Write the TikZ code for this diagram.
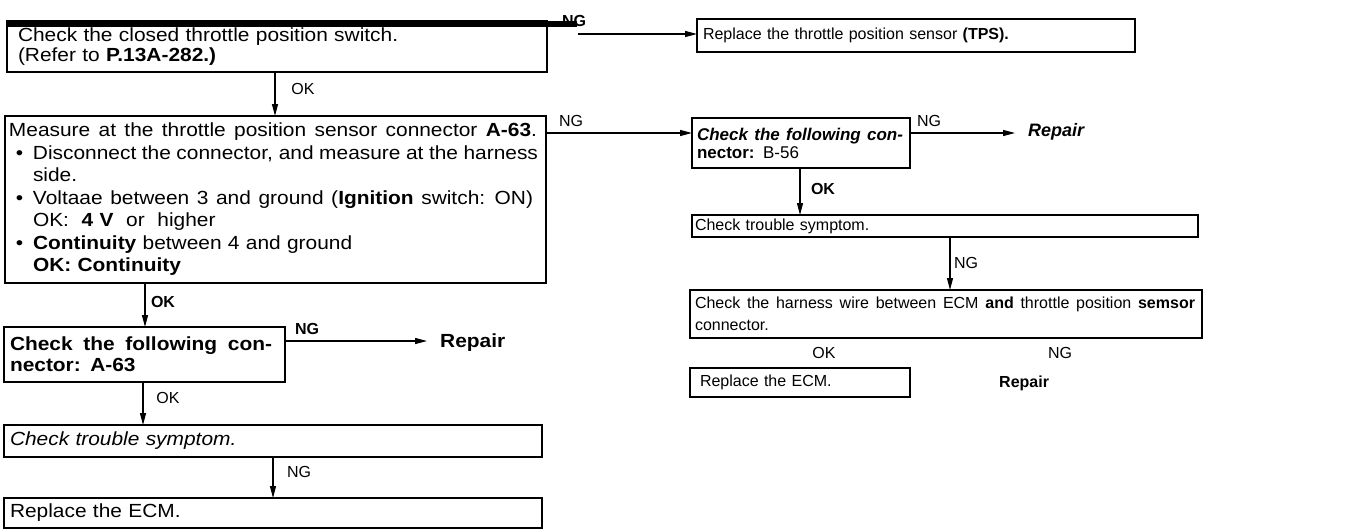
\documentclass[tikz,border=0pt]{standalone}
\usepackage{fontspec}
\setmainfont{Liberation Sans}
\newfontfamily\leftfont[FakeStretch=1.1]{Liberation Sans}
\usetikzlibrary{arrows.meta}
\newcommand\bodyfont[1]{\fontsize{16}{#1}\selectfont}
\newcommand\lfont[1]{\leftfont\fontsize{19}{#1}\selectfont}
\newcommand\bul{\makebox[24pt][l]{\hspace{7pt}\textbullet}}
\newcommand\ind{\hspace*{24pt}}
\newcommand\jline[2]{\hbox to #1{\spaceskip=0.2em plus 1fil\relax #2}}
\begin{document}
\begin{tikzpicture}[x=1pt,y=-1pt,
  box/.style={draw,line width=1.5pt,anchor=north west,outer sep=0pt,inner ysep=0pt,align=left},
  arr/.style={line width=1.2pt,-{Triangle[length=12pt,width=6pt]}},
  lbl/.style={inner sep=0pt,font=\fontsize{16}{18}\selectfont},
  blbl/.style={inner sep=0pt,font=\fontsize{16}{18}\selectfont\bfseries},
  rep/.style={anchor=west,inner sep=0pt,font=\fontsize{16}{18}\selectfont\bfseries},
]
\useasboundingbox[fill=white] (0,0) rectangle (1348,530);

% ---------- left column ----------
\node[box,inner xsep=11pt,text width=518pt,minimum height=51pt,font=\lfont{20}] (b1) at (7,21)
 {Check the closed throttle position switch.\\(Refer to \textbf{P.13A-282.)}};
\draw[line width=6pt] ([yshift=-2.5pt]b1.north west) -- ([xshift=30pt,yshift=-2.5pt]b1.north east);
\node[blbl] (ng1) at (574,21) {NG};

\node[box,inner xsep=4pt,text width=533pt,minimum height=167pt,font=\lfont{22.5}] (b3) at (5,116)
{\jline{528pt}{Measure at the throttle position sensor connector \textbf{A-63}.}\\
\bul\jline{505pt}{Disconnect the connector, and measure at the harness}\\
\ind side.\\
\bul\jline{500pt}{Voltaae between 3 and ground (\textbf{Ignition} switch: ON)}\\
\ind OK:\ \ \textbf{4 V}\ \ or\ \ higher\\
\bul\textbf{Continuity} between 4 and ground\\
\ind\textbf{OK: Continuity}};

\node[box,inner xsep=6pt,text width=269pt,minimum height=55pt,font=\lfont{21}\bfseries] (b8) at (4,327)
{\jline{262pt}{Check the following con-}\\nector: A-63};
\node[box,inner xsep=6pt,text width=526pt,minimum height=32pt,font=\lfont{20}\itshape] (b9) at (4,425)
{Check trouble symptom.};
\node[box,inner xsep=6pt,text width=526pt,minimum height=30pt,font=\lfont{20}] (b10) at (4,498)
{Replace the ECM.};
\node[rep,font=\lfont{20}\bfseries] (rep2) at (440,343) {Repair};

% ---------- right column ----------
\node[box,inner xsep=6pt,text width=426pt,minimum height=33pt,font=\bodyfont{20}] (b2) at (697,19)
 {Replace the throttle position sensor \textbf{(TPS).}};
\node[box,inner xsep=5pt,text width=208pt,minimum height=50pt,font=\fontsize{17}{18}\selectfont\bfseries] (b4) at (692,118)
{\jline{206pt}{\itshape Check the following con-}\\nector: \mdseries B-56};
\node[rep,font=\fontsize{18}{20}\selectfont\bfseries\itshape] (rep1) at (1028,132) {Repair};
\node[box,inner xsep=3pt,text width=500pt,minimum height=22pt,font=\bodyfont{20}] (b5) at (692,215)
{Check trouble symptom.};
\node[box,inner xsep=5pt,text width=502pt,minimum height=48pt,font=\bodyfont{22}] (b6) at (690,290)
{\jline{500pt}{Check the harness wire between ECM \textbf{and} throttle position \textbf{semsor}}\\connector.};
\node[box,inner xsep=10pt,text width=200pt,minimum height=29pt,font=\bodyfont{20}] (b7) at (690,368)
{Replace the ECM.};
\node[rep] (rep3) at (999,383) {Repair};
\node[lbl] (ok6) at (824,353) {OK};
\node[lbl] (ng6) at (1060,353) {NG};

% ---------- connectors ----------
\coordinate (n1s) at (578,34);
\draw[arr] (n1s) -- (n1s -| b2.west);

\coordinate (o1s) at ([xshift=268pt]b1.south west);
\draw[arr] (o1s) -- (o1s |- b3.north);
\node[lbl] (ok1) at (303,89) {OK};

\coordinate (n3s) at ([yshift=-17pt]b3.north east);
\draw[arr] (n3s) -- (n3s -| b4.west);
\node[lbl] (ng3) at (571,121) {NG};

\coordinate (n4s) at ([yshift=-15pt]b4.north east);
\coordinate (r1e) at ([xshift=-13pt]rep1.west);
\draw[arr] (n4s) -- (n4s -| r1e);
\node[lbl] (ng4) at (929,121) {NG};

\coordinate (o4s) at ([xshift=108pt]b4.south west);
\draw[arr] (o4s) -- (o4s |- b5.north);
\node[blbl] (ok4) at (823,189) {OK};

\coordinate (n5s) at ([xshift=258pt]b5.south west);
\draw[arr] (n5s) -- (n5s |- b6.north);
\node[lbl] (ng5) at (966,263) {NG};

\coordinate (o3s) at ([xshift=140pt]b3.south west);
\draw[arr] (o3s) -- (o3s |- b8.north);
\node[blbl] (ok3) at (163,302) {OK};

\coordinate (n8s) at ([yshift=-14pt]b8.north east);
\coordinate (r2e) at ([xshift=-13pt]rep2.west);
\draw[arr] (n8s) -- (n8s -| r2e);
\node[blbl] (ng8) at (307,329) {NG};

\coordinate (o8s) at ([xshift=139pt]b8.south west);
\draw[arr] (o8s) -- (o8s |- b9.north);
\node[lbl] (ok8) at (168,398) {OK};

\coordinate (n9s) at ([xshift=269pt]b9.south west);
\draw[arr] (n9s) -- (n9s |- b10.north);
\node[lbl] (ng9) at (299,472) {NG};
\end{tikzpicture}
\end{document}
